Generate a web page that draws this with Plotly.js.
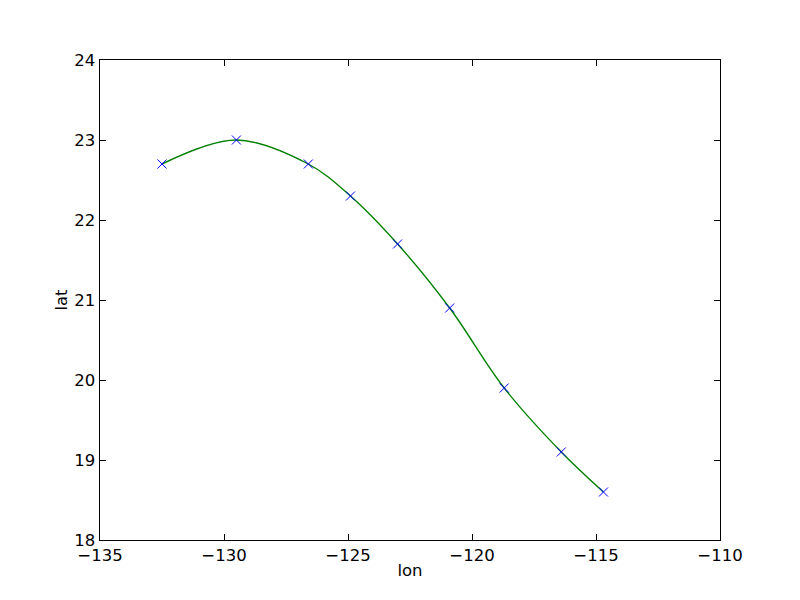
<!DOCTYPE html>
<html>
<head>
<meta charset="utf-8">
<script src="https://cdn.plot.ly/plotly-3.0.1.min.js"></script>
<style>html,body{margin:0;padding:0;background:#fff;}#chart{width:800px;height:600px;}</style>
</head>
<body>
<div id="chart"></div>
<script>
const lon = [-132.5, -129.5, -126.6, -124.9, -123.0, -120.9, -118.7, -116.4, -114.7];
const lat = [22.7, 23.0, 22.7, 22.3, 21.7, 20.9, 19.9, 19.1, 18.6];
const xTicks = [-135, -130, -125, -120, -115, -110];
const yTicks = [18, 19, 20, 21, 22, 23, 24];

const fontFam = 'DejaVu Sans, sans-serif';
const traces = [
  {
    x: lon, y: lat, mode: 'lines', type: 'scatter',
    line: {color: '#008000', width: 1.4, shape: 'spline', smoothing: 1},
    hoverinfo: 'skip'
  },
  {
    x: lon, y: lat, mode: 'markers', type: 'scatter',
    marker: {symbol: 'x-thin-open', size: 9, color: '#0000ff', line: {color: '#0000ff', width: 1}}
  }
];
const axisCommon = {
  showgrid: false, zeroline: false, showline: true, linecolor: '#000', linewidth: 1.4,
  mirror: 'ticks', ticks: 'inside', ticklen: 6, tickwidth: 1, tickcolor: '#000',
  tickfont: {family: fontFam, size: 16.5, color: '#000'}
};
const layout = {
  width: 800, height: 600,
  margin: {l: 100, r: 80, t: 60, b: 60},
  paper_bgcolor: '#fff', plot_bgcolor: '#fff',
  showlegend: false,
  xaxis: Object.assign({}, axisCommon, {
    range: [-135, -110], tickvals: xTicks, ticktext: xTicks.map(v => String(v).replace('-', '\u2212')),
    title: {text: 'lon', font: {family: fontFam, size: 16.5, color: '#000'}, standoff: 0}
  }),
  yaxis: Object.assign({}, axisCommon, {
    range: [18, 24], tickvals: yTicks, ticktext: yTicks.map(String),
    title: {text: 'lat', font: {family: fontFam, size: 16.5, color: '#000'}, standoff: 2}
  })
};
Plotly.newPlot('chart', traces, layout, {displayModeBar: false, staticPlot: true});
</script>
</body>
</html>
